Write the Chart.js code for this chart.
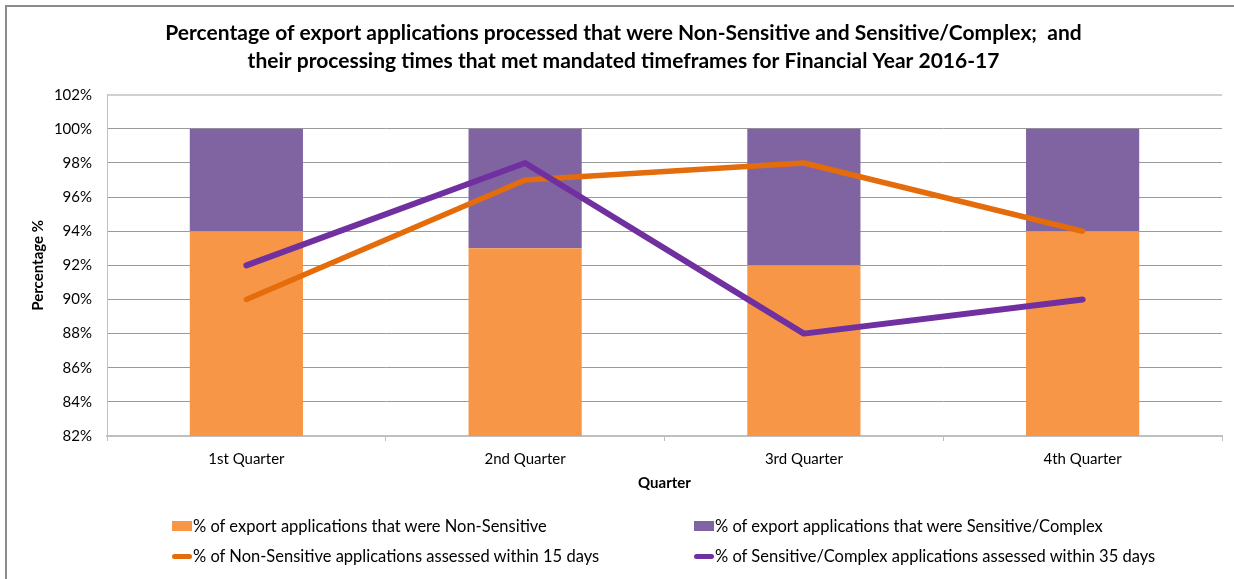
<!DOCTYPE html>
<html>
<head>
<meta charset="utf-8">
<script src="https://cdn.jsdelivr.net/npm/chart.js@4"></script>
<style>
  html, body { margin: 0; padding: 0; background: #fff; overflow: hidden; }
  #wrap { position: relative; width: 1234px; height: 579px; }
  #frame { position: absolute; left: 5px; top: 5px; width: 1260px; height: 580px; border: 2px solid #8c8c8c; box-sizing: border-box; }
  canvas { position: absolute; left: 0; top: 0; }
  .lg { position: absolute; font-family: Lato, "Liberation Sans", sans-serif; font-size: 16.5px; color: #000; white-space: nowrap; display: flex; align-items: center; }
  .lg i { display: inline-block; width: 20px; margin-right: 1px; }
</style>
</head>
<body>
<div id="wrap">
  <div id="frame"></div>
  <canvas id="chart" width="1234" height="579"></canvas>
  <div id="legend"></div>
</div>
<script>
// quarters on the x axis
const quarters = ['1st Quarter', '2nd Quarter', '3rd Quarter', '4th Quarter'];

// stacked share of applications (%)
const nonSensitiveShare = [94, 93, 92, 94];
const sensitiveShare = [6, 7, 8, 6];

// share processed within mandated timeframes (%)
const nonSensitiveOnTime = [90, 97, 98, 94];
const sensitiveOnTime = [92, 98, 88, 90];

const labels = {
  nsShare: '% of export applications that were Non-Sensitive',
  sShare: '% of export applications that were Sensitive/Complex',
  nsTime: '% of Non-Sensitive applications assessed within 15 days',
  sTime: '% of Sensitive/Complex applications assessed within 35 days'
};

const colors = {
  nsBar: '#F79646',
  sBar: '#8064A2',
  nsLine: '#E46C0A',
  sLine: '#7030A0'
};

const font = 'Lato, "Liberation Sans", sans-serif';

const ctx = document.getElementById('chart').getContext('2d');

new Chart(ctx, {
  data: {
    labels: quarters,
    datasets: [
      {
        type: 'line',
        label: labels.sTime,
        data: sensitiveOnTime,
        borderColor: colors.sLine,
        borderWidth: 6,
        borderCapStyle: 'round',
        borderJoinStyle: 'round',
        pointRadius: 0,
        tension: 0,
        stack: 'line2',
        order: 1
      },
      {
        type: 'line',
        label: labels.nsTime,
        data: nonSensitiveOnTime,
        borderColor: colors.nsLine,
        borderWidth: 5.5,
        borderCapStyle: 'round',
        borderJoinStyle: 'round',
        pointRadius: 0,
        tension: 0,
        stack: 'line1',
        order: 2
      },
      {
        // stacks first (lower order), so it sits at the bottom
        type: 'bar',
        label: labels.nsShare,
        data: nonSensitiveShare,
        backgroundColor: colors.nsBar,
        stack: 'share',
        categoryPercentage: 1,
        barPercentage: 0.406,
        order: 3
      },
      {
        type: 'bar',
        label: labels.sShare,
        data: sensitiveShare,
        backgroundColor: colors.sBar,
        stack: 'share',
        categoryPercentage: 1,
        barPercentage: 0.406,
        order: 4
      }
    ]
  },
  options: {
    responsive: false,
    animation: false,
    layout: {
      padding: { top: 19, left: 25, right: 12, bottom: 83 }
    },
    plugins: {
      legend: { display: false },
      tooltip: { enabled: false },
      title: {
        display: true,
        text: [
          'Percentage of export applications processed that were Non-Sensitive and Sensitive/Complex;  and',
          'their processing times that met mandated timeframes for Financial Year 2016-17'
        ],
        color: '#000',
        font: { family: font, size: 21, weight: 'bold', lineHeight: 1.35 },
        padding: { top: 0, bottom: 19 }
      }
    },
    scales: {
      x: {
        stacked: true,
        offset: true,
        grid: {
          offset: true,
          drawOnChartArea: false,
          drawTicks: true,
          tickLength: 5,
          color: '#BFBFBF'
        },
        border: { color: '#BFBFBF', width: 2 },
        ticks: {
          color: '#000',
          padding: 9,
          font: { family: font, size: 15 }
        },
        title: {
          display: true,
          text: 'Quarter',
          color: '#000',
          font: { family: font, size: 15, weight: 'bold' }
        },
        afterFit: scale => { scale.height = 60; }
      },
      y: {
        stacked: true,
        min: 82,
        max: 102,
        grid: {
          drawTicks: false,
          color: c => (c.tick && c.tick.value === 102 ? '#D0D0D0' : '#9A9A9A'),
          lineWidth: c => (c.tick && c.tick.value === 102 ? 2 : 1)
        },
        border: { color: '#BFBFBF' },
        ticks: {
          stepSize: 2,
          color: '#000',
          padding: 15,
          font: { family: font, size: 15 },
          callback: v => v + '%'
        },
        title: {
          display: true,
          text: 'Percentage %',
          color: '#000',
          font: { family: font, size: 15, weight: 'bold' }
        },
        afterFit: scale => { scale.width = 82; }
      }
    }
  }
});

// two-column legend, laid out like the original
const legendItems = [
  { text: labels.nsShare, color: colors.nsBar, kind: 'box', x: 172, y: 526 },
  { text: labels.sShare, color: colors.sBar, kind: 'box', x: 694, y: 526 },
  { text: labels.nsTime, color: colors.nsLine, kind: 'line', x: 172, y: 556 },
  { text: labels.sTime, color: colors.sLine, kind: 'line', x: 694, y: 556 }
];
const legend = document.getElementById('legend');
legendItems.forEach(item => {
  const el = document.createElement('div');
  el.className = 'lg';
  el.style.left = item.x + 'px';
  el.style.top = (item.y - 10) + 'px';
  el.style.height = '20px';
  const mark = document.createElement('i');
  mark.style.background = item.color;
  if (item.kind === 'box') {
    mark.style.height = '10px';
  } else {
    mark.style.height = '5px';
    mark.style.borderRadius = '3px';
  }
  el.appendChild(mark);
  el.appendChild(document.createTextNode(item.text));
  legend.appendChild(el);
});
</script>
</body>
</html>
